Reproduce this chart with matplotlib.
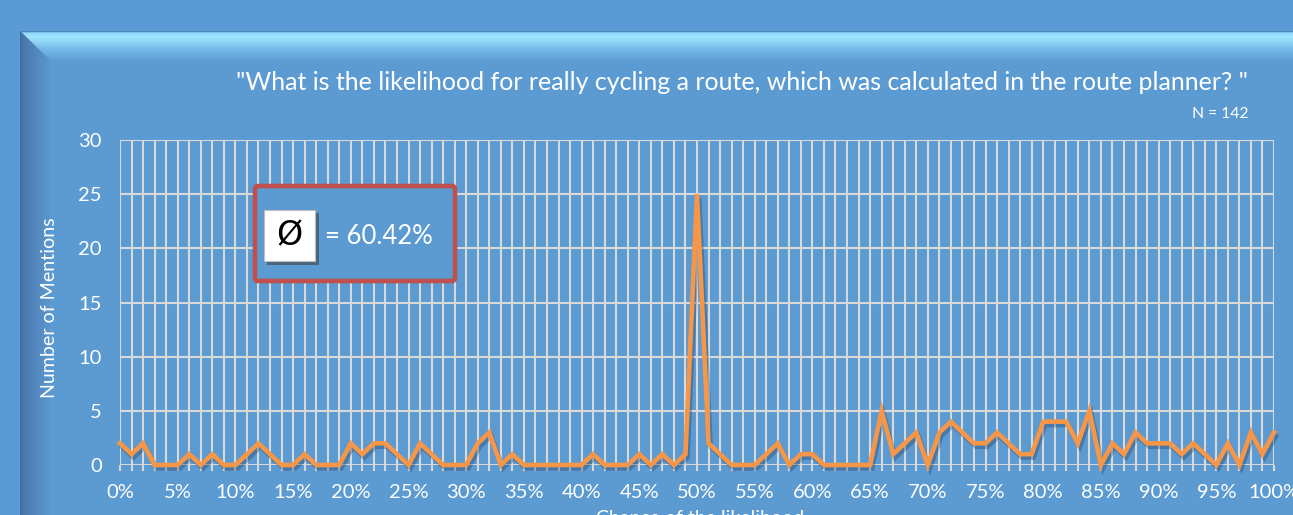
import matplotlib
matplotlib.use('Agg')
import matplotlib.pyplot as plt
import numpy as np
from matplotlib.patches import Polygon, Rectangle, FancyBboxPatch
import matplotlib.patheffects as pe

# ---------------- data ----------------
likelihood_pct = list(range(0, 101))
mentions = [2, 1, 2, 0, 0, 0, 1, 0, 1, 0,
            0, 1, 2, 1, 0, 0, 1, 0, 0, 0,
            2, 1, 2, 2, 1, 0, 2, 1, 0, 0,
            0, 2, 3, 0, 1, 0, 0, 0, 0, 0,
            0, 1, 0, 0, 0, 1, 0, 1, 0, 1,
            25, 2, 1, 0, 0, 0, 1, 2, 0, 1,
            1, 0, 0, 0, 0, 0, 5, 1, 2, 3,
            0, 3, 4, 3, 2, 2, 3, 2, 1, 1,
            4, 4, 4, 2, 5, 0, 2, 1, 3, 2,
            2, 2, 1, 2, 1, 0, 2, 0, 3, 1,
            3]
xtick_vals = list(range(0, 101, 5))
xtick_labels = [f"{v}%" for v in xtick_vals]
ytick_vals = [0, 5, 10, 15, 20, 25, 30]
title_text = '"What is the likelihood for really cycling a route, which was calculated in the route planner? "'
n_text = "N = 142"
mean_text = "= 60.42%"
ylabel_text = "Number of Mentions"
xlabel_text = "Chance of the likelihood"

# ---------------- style ----------------
FONT = "Lato"
W, H = 1293, 515
FIG_BG = "#5B9BD5"
CHART = "#5C9AD2"
GRID = "#D9D9D9"
LINE = "#F79646"
WHITE = "#FFFFFF"

fig = plt.figure(figsize=(W / 100, H / 100), dpi=100)
fig.patch.set_facecolor(FIG_BG)

# background / bevel axes in pixel coordinates
bg = fig.add_axes([0, 0, 1, 1], zorder=0)
bg.set_xlim(0, W)
bg.set_ylim(H, 0)
bg.axis('off')
bg.add_patch(Rectangle((20, 31), W, H, fc=CHART, ec='none', zorder=0))

def hex2rgb(h):
    h = h.lstrip('#')
    return np.array([int(h[i:i + 2], 16) / 255 for i in (0, 2, 4)])

def ramp(stops, n=64):
    out = np.zeros((n, 3))
    for i in range(n):
        t = i / (n - 1)
        for (t0, c0), (t1, c1) in zip(stops[:-1], stops[1:]):
            if t0 <= t <= t1:
                f = (t - t0) / (t1 - t0)
                out[i] = hex2rgb(c0) * (1 - f) + hex2rgb(c1) * f
                break
    return out

# top bevel (vertical gradient)
stops_top = [(0.0, "#3F74A6"), (0.05, "#8FD6FA"), (0.18, "#A0E6FF"), (0.55, "#79BEEA"), (1.0, CHART)]
grad = ramp(stops_top)[:, None, :]
top_poly = Polygon([(20, 31), (W, 31), (W, 62), (52, 62)], closed=True, fc='none', ec='none')
bg.add_patch(top_poly)
im = bg.imshow(grad, extent=[20, W, 62, 31], origin='upper', aspect='auto',
               interpolation='bilinear', zorder=2)
im.set_clip_path(top_poly)

# left bevel (horizontal gradient)
stops_left = [(0.0, "#3E6F9F"), (0.1, "#4878AA"), (0.5, "#5487BE"), (1.0, CHART)]
gradl = ramp(stops_left)[None, :, :]
left_poly = Polygon([(20, 31), (52, 62), (52, H), (20, H)], closed=True, fc='none', ec='none')
bg.add_patch(left_poly)
iml = bg.imshow(gradl, extent=[20, 52, H, 31], origin='upper', aspect='auto',
                interpolation='bilinear', zorder=2)
iml.set_clip_path(left_poly)
bg.set_xlim(0, W)
bg.set_ylim(H, 0)

# ---------------- main plot ----------------
L, R, T, B = 120, 1274, 140, 465
ax = fig.add_axes([L / W, 1 - B / H, (R - L) / W, (B - T) / H], zorder=1)
ax.set_facecolor('none')
ax.set_xlim(0, 100)
ax.set_ylim(0, 30)
for s in ax.spines.values():
    s.set_visible(False)

ax.set_xticks(xtick_vals)
ax.set_xticklabels(xtick_labels)
ax.set_xticks(likelihood_pct, minor=True)
ax.set_yticks(ytick_vals)
ax.set_yticklabels([str(v) for v in ytick_vals])
ax.grid(True, which='major', axis='y', color=GRID, lw=1.5)
ax.grid(True, which='both', axis='x', color=GRID, lw=1.5)
ax.set_axisbelow(True)
ax.tick_params(axis='x', which='both', length=4.5, width=1.5, color=GRID, pad=9.5,
               labelsize=14.5, labelcolor=WHITE)
ax.tick_params(axis='y', which='both', length=0, pad=13, labelsize=14.5, labelcolor=WHITE)
for lab in ax.get_xticklabels() + ax.get_yticklabels():
    lab.set_fontfamily(FONT)

ax.plot(likelihood_pct, mentions, color=LINE, lw=3.3, solid_joinstyle='miter', zorder=3,
        clip_on=False,
        path_effects=[pe.SimpleLineShadow(offset=(1.5, -2.5), shadow_color='#1F3D5C', alpha=0.35),
                      pe.Normal()])

# ---------------- overlay (texts, box) ----------------
ov = fig.add_axes([0, 0, 1, 1], zorder=5)
ov.set_xlim(0, W)
ov.set_ylim(H, 0)
ov.axis('off')
ov.patch.set_alpha(0)

renderer = fig.canvas.get_renderer()

def fit(t, width):
    bb = t.get_window_extent(renderer)
    t.set_fontsize(t.get_fontsize() * width / bb.width)

t_title = ov.text((232 + 1253) / 2, 82, title_text, ha='center', va='center', color=WHITE,
                  fontsize=16, family=FONT)
fit(t_title, 1253 - 232)
t_n = ov.text(1248, 114, n_text, ha='right', va='center', color=WHITE, fontsize=9, family=FONT)
fit(t_n, 1248 - 1191)
t_yl = ov.text(50, 308, ylabel_text, ha='center', va='center', rotation=90, color=WHITE,
               fontsize=12, family=FONT)
bb = t_yl.get_window_extent(renderer)
t_yl.set_fontsize(t_yl.get_fontsize() * 180 / bb.height)
ov.text(700, 510.5, xlabel_text, ha='center', va='top', color=WHITE, fontsize=14, family=FONT)

# mean box
ov.add_patch(FancyBboxPatch((255, 186), 200, 95, boxstyle="round,pad=0,rounding_size=3",
                            fc=CHART, ec="#C0504D", lw=3.3, zorder=2))
# icon shadow and face
ov.add_patch(Rectangle((267, 213), 52, 52, fc='#3A3A3A', ec='none', alpha=0.55, zorder=3))
ov.add_patch(Rectangle((264, 210), 51, 51, fc=WHITE, ec='#BFBFBF', lw=0.8, zorder=4))
ov.text(289.5, 236, "Ø", ha='center', va='center', color='black', fontsize=24,
        family="DejaVu Sans", zorder=5)
t_mean = ov.text(325, 236, mean_text, ha='left', va='center', color=WHITE, fontsize=18,
                 family=FONT, zorder=5)
fit(t_mean, 433 - 325)

fig.savefig("out.png", dpi=100, facecolor=fig.get_facecolor())
